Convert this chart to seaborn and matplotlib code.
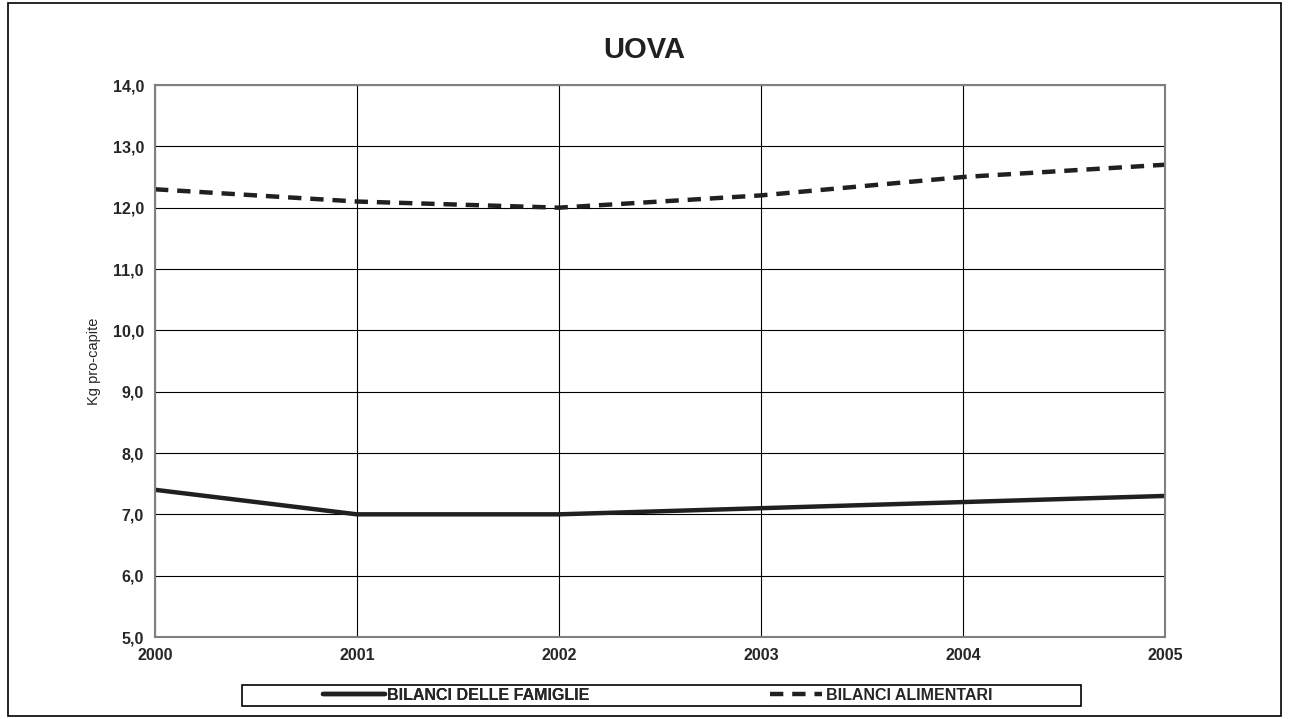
import pandas as pd
import seaborn as sns
import matplotlib.pyplot as plt
from matplotlib.patches import Rectangle
from matplotlib.lines import Line2D
from matplotlib.ticker import FuncFormatter

# Data
anni = [2000, 2001, 2002, 2003, 2004, 2005]
famiglie = [7.4, 7.0, 7.0, 7.1, 7.2, 7.3]
alimentari = [12.3, 12.1, 12.0, 12.2, 12.5, 12.7]
serie = ["BILANCI DELLE FAMIGLIE", "BILANCI ALIMENTARI"]

df = pd.DataFrame({
    "anno": anni * 2,
    "valore": famiglie + alimentari,
    "serie": [serie[0]] * len(anni) + [serie[1]] * len(anni),
})

sns.set_style("white")
plt.rcParams['font.family'] = ['Liberation Sans', 'DejaVu Sans']

W, H = 1289, 719
fig = plt.figure(figsize=(W / 100, H / 100), dpi=100)
ax = fig.add_axes([155 / W, 1 - 637 / H, 1010 / W, 552 / H])

col = "#231f20"
sns.lineplot(data=df, x="anno", y="valore", hue="serie", style="serie",
             palette=[col, col], dashes=[(None, None), (3, 2)],
             linewidth=3.2, ax=ax, legend=False)

ax.set_xlim(2000, 2005)
ax.set_ylim(5, 14)
ax.set_xticks(anni)
ax.set_yticks(range(5, 15))
ax.yaxis.set_major_formatter(FuncFormatter(lambda v, p: f"{v:.1f}".replace(".", ",")))
ax.grid(True, color="black", linewidth=0.8)
ax.set_axisbelow(True)
for s in ax.spines.values():
    s.set_color("#808080")
    s.set_linewidth(1.5)
ax.tick_params(axis="both", length=5, width=1, color="black", direction="out",
               labelsize=11.5, pad=3)
for lab in ax.get_xticklabels() + ax.get_yticklabels():
    lab.set_fontweight("bold")
ax.set_xlabel("")
ax.set_ylabel("Kg pro-capite", fontsize=10.5, labelpad=8)
fig.text(0.5, 1 - 50 / H, "UOVA", fontsize=21, fontweight="bold",
         ha="center", va="center", color=col)

# legend box across the bottom
fig.patches.append(Rectangle((242 / W, 1 - 706 / H), 839 / W, 21 / H,
                             transform=fig.transFigure, fill=False,
                             edgecolor="black", linewidth=1.2))
ly = 1 - 695.5 / H
leg1 = fig.legend([Line2D([], [], color=col, linewidth=3.2)], [serie[0]],
                  loc="center left", bbox_to_anchor=(323 / W, ly),
                  frameon=False, borderpad=0, borderaxespad=0,
                  handlelength=3.9, handletextpad=0.12,
                  prop={"weight": "bold", "size": 11.5})
fig.add_artist(leg1)
fig.legend([Line2D([], [], color=col, linewidth=3.2, dashes=(3, 2))], [serie[1]],
           loc="center left", bbox_to_anchor=(770 / W, ly),
           frameon=False, borderpad=0, borderaxespad=0,
           handlelength=3.25, handletextpad=0.25,
           prop={"weight": "bold", "size": 11.5})

# outer border
fig.patches.append(Rectangle((8 / W, 3 / H), 1273 / W, 713 / H,
                             transform=fig.transFigure, fill=False,
                             edgecolor="black", linewidth=1.2))

fig.savefig("out.png", dpi=100)
